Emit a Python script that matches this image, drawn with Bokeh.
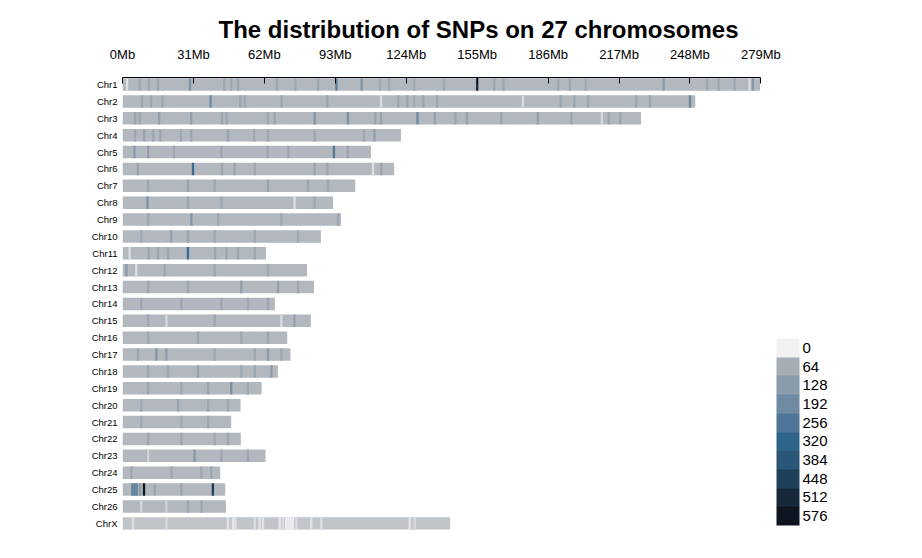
import numpy as np
from bokeh.plotting import figure
from bokeh.models import (ColumnDataSource, LinearColorMapper, ColorBar, FixedTicker,
                          LinearAxis, Range1d, PrintfTickFormatter)
from bokeh.embed import file_html
from bokeh.resources import INLINE

# ---------------- data ----------------
chrom_names = ["Chr1", "Chr2", "Chr3", "Chr4", "Chr5", "Chr6", "Chr7", "Chr8", "Chr9",
               "Chr10", "Chr11", "Chr12", "Chr13", "Chr14", "Chr15", "Chr16", "Chr17",
               "Chr18", "Chr19", "Chr20", "Chr21", "Chr22", "Chr23", "Chr24", "Chr25",
               "Chr26", "ChrX"]
chrom_length_mb = [278.6, 250.3, 226.6, 121.7, 108.6, 118.7, 101.7, 92.0, 95.5,
                   86.7, 62.7, 80.6, 83.7, 66.6, 82.3, 72.0, 73.4,
                   67.9, 60.8, 51.6, 47.5, 51.7, 62.5, 42.7, 44.9,
                   45.2, 143.2]
# typical SNP count per 1Mb window on each chromosome
base_density = [54, 54, 54, 54, 54, 54, 54, 54, 54,
                54, 54, 54, 54, 54, 54, 54, 54,
                54, 54, 54, 54, 54, 54, 54, 54,
                54, 42]

# windows that differ from the typical count: (start Mb, SNP count)
bins_chr1 = [(1.5, 18), (7, 85), (11, 80), (15, 90), (29, 160), (44, 85), (47, 80), (50, 90),
             (67, 85), (75, 80), (85, 90), (93, 230), (104, 150), (112, 80), (116, 85),
             (127, 80), (140, 80), (154.5, 500), (162, 90), (166, 85), (190, 80), (195, 90),
             (202, 80), (236, 130), (255, 80), (260, 90), (267, 85), (273.5, 20), (275, 140)]
bins_chr2 = [(8, 85), (12, 80), (17, 90), (38, 190), (51, 90), (53, 85), (69, 85), (89, 90),
             (112.5, 20), (120, 85), (124, 90), (127, 80), (131, 85), (137, 90), (174.5, 22),
             (191, 85), (197, 90), (203, 85), (224, 90), (230, 85), (247.5, 200)]
bins_chr3 = [(5, 100), (7, 90), (15.5, 110), (29.5, 110), (43, 90), (45, 85), (63, 85), (66, 90),
             (83.5, 150), (98, 170), (110, 90), (112.5, 100), (128.4, 190), (136, 110),
             (145, 90), (150, 100), (165, 90), (181, 110), (195.7, 90), (209, 22), (212, 85),
             (217, 90)]
bins_chr4 = [(5, 85), (9, 100), (13, 85), (16, 90), (25, 80), (29.5, 85), (45.6, 100), (57, 85),
             (63, 85), (83.5, 90), (105, 85), (109.6, 110)]
bins_chr5 = [(4.7, 130), (10.7, 110), (22, 85), (42.7, 90), (63, 85), (72, 85), (91.9, 250),
             (98, 90)]
bins_chr6 = [(6.2, 100), (30.3, 300), (43, 85), (48.5, 90), (57.3, 85), (83.5, 90), (89, 85),
             (109, 18), (112.6, 90)]
bins_chr7 = [(10.7, 85), (28.1, 100), (39.8, 85), (63.1, 100), (80.6, 85), (89.3, 85)]
bins_chr8 = [(10.4, 170), (28.1, 90), (42.7, 85), (74.7, 18), (83.5, 85)]
bins_chr9 = [(10.7, 85), (29.6, 150), (41.3, 85), (68.9, 80), (93.7, 90)]
bins_chr10 = [(7.7, 85), (20.8, 110), (28.1, 90), (39.8, 85), (57.3, 85), (76.2, 80)]
bins_chr11 = [(2.6, 18), (11, 90), (15, 85), (19.4, 90), (28.1, 300), (40, 90), (45, 95),
              (50, 90), (57.3, 85)]
bins_chr12 = [(1.2, 130), (5.5, 18), (17.9, 85), (39.8, 85), (63.1, 80)]
bins_chr13 = [(10.7, 85), (28.1, 85), (51.4, 110), (67.5, 110), (76.2, 85)]
bins_chr14 = [(7.7, 85), (25.2, 85), (42.7, 85), (54.3, 80), (63.1, 85)]
bins_chr15 = [(10.7, 85), (18.7, 22), (39.8, 85), (68.9, 22), (74.7, 110)]
bins_chr16 = [(10.7, 80), (32.5, 85), (51.4, 80), (63.1, 85)]
bins_chr17 = [(6.3, 90), (14.3, 150), (18.7, 120), (39.8, 80), (57.3, 85), (63.1, 120),
              (68.9, 85)]
bins_chr18 = [(10.7, 85), (19.4, 85), (32.5, 100), (51.4, 85), (57.3, 90), (64.6, 120)]
bins_chr19 = [(10.7, 85), (25.2, 85), (36.9, 90), (47, 170), (54.3, 85)]
bins_chr20 = [(7.7, 85), (23.8, 100), (36.9, 85), (45.6, 85)]
bins_chr21 = [(7.7, 85), (25.2, 80), (36.9, 85)]
bins_chr22 = [(10.7, 85), (25.2, 85), (39.8, 80), (45.6, 85)]
bins_chr23 = [(10.7, 28), (31, 140), (42.7, 85), (54.3, 85)]
bins_chr24 = [(3.4, 90), (20.9, 85), (34, 85), (38.3, 90)]
bins_chr25 = [(3.8, 220), (4.8, 230), (5.8, 200), (7.2, 120), (8.9, 576), (13.6, 90),
              (25.2, 85), (39, 450)]
bins_chr26 = [(7.7, 25), (18.7, 28), (28.1, 85), (34, 85)]
bins_chrX = [(4.1, 18), (18.7, 22), (45.6, 15), (47.8, 12), (48.8, 14), (57.3, 18), (59.4, 12),
             (60.9, 14), (68.2, 12), (69.6, 20), (71, 6), (72, 4), (73, 4), (74, 6),
             (75.5, 20), (82, 14), (86.4, 18), (125, 12), (127.2, 22)]

axis_ticks_mb = [0, 31, 62, 93, 124, 155, 186, 217, 248, 279]
legend_breaks = [0, 64, 128, 192, 256, 320, 384, 448, 512, 576]
legend_colors = ["#f2f2f2", "#a7adb4", "#8a9bab", "#6f8ba3", "#4f7698",
                 "#30658a", "#2a5778", "#1f405b", "#16283a", "#0e1521"]

title_text = "The distribution of SNPs on 27 chromosomes"
FONT = "Liberation Sans"

# ---------------- colour scale (continuous ramp through the legend colours) ----------------
def hex_to_rgb(h):
    return [int(h[i:i + 2], 16) for i in (1, 3, 5)]

anchor_rgb = np.array([hex_to_rgb(c) for c in legend_colors], dtype=float)
ramp_x = np.arange(0, legend_breaks[-1] + 1)
ramp = np.stack([np.interp(ramp_x, legend_breaks, anchor_rgb[:, k]) for k in range(3)], axis=1)
palette = ["#%02x%02x%02x" % tuple(int(round(v)) for v in row) for row in ramp]
mapper = LinearColorMapper(palette=palette, low=legend_breaks[0], high=legend_breaks[-1])

# ---------------- sources ----------------
bar_h = 0.74
rows = list(range(1, len(chrom_names) + 1))
base_src = ColumnDataSource(dict(
    left=[0.0] * len(rows),
    right=chrom_length_mb,
    top=[r - bar_h / 2 for r in rows],
    bottom=[r + bar_h / 2 for r in rows],
    count=base_density,
))

all_bins = [bins_chr1, bins_chr2, bins_chr3, bins_chr4, bins_chr5, bins_chr6, bins_chr7,
            bins_chr8, bins_chr9, bins_chr10, bins_chr11, bins_chr12, bins_chr13, bins_chr14,
            bins_chr15, bins_chr16, bins_chr17, bins_chr18, bins_chr19, bins_chr20, bins_chr21,
            bins_chr22, bins_chr23, bins_chr24, bins_chr25, bins_chr26, bins_chrX]
sl, sr, st, sb, sc = [], [], [], [], []
for r, bins, ln in zip(rows, all_bins, chrom_length_mb):
    for pos, cnt in bins:
        sl.append(pos)
        sr.append(min(pos + 1.0, ln))
        st.append(r - bar_h / 2)
        sb.append(r + bar_h / 2)
        sc.append(cnt)
stripe_src = ColumnDataSource(dict(left=sl, right=sr, top=st, bottom=sb, count=sc))

# ---------------- figure ----------------
p = figure(width=906, height=542,
           x_range=Range1d(0, 340), y_range=Range1d(27.6, 0.585),
           x_axis_location=None, y_axis_location=None,
           output_backend="svg", toolbar_location=None,
           min_border_left=122, min_border_right=6, min_border_top=77, min_border_bottom=9)
p.outline_line_color = None
for g in p.grid:
    g.visible = False
p.background_fill_color = "white"
p.border_fill_color = "white"

p.quad(left="left", right="right", top="top", bottom="bottom", source=base_src,
       fill_color={"field": "count", "transform": mapper}, line_color=None)
p.quad(left="left", right="right", top="top", bottom="bottom", source=stripe_src,
       fill_color={"field": "count", "transform": mapper}, line_color=None)

xaxis = LinearAxis(ticker=FixedTicker(ticks=axis_ticks_mb),
                   formatter=PrintfTickFormatter(format="%dMb"),
                   bounds=(axis_ticks_mb[0], axis_ticks_mb[-1]),
                   major_tick_in=6, major_tick_out=0,
                   minor_tick_line_color=None,
                   major_label_standoff=16,
                   major_label_text_font=FONT, major_label_text_font_size="13px",
                   major_label_text_color="black",
                   axis_line_color="black", major_tick_line_color="black")
p.add_layout(xaxis, "above")

yaxis = LinearAxis(ticker=FixedTicker(ticks=rows),
                   major_label_overrides={r: n for r, n in zip(rows, chrom_names)},
                   axis_line_color=None, major_tick_line_color=None, minor_tick_line_color=None,
                   major_tick_in=0, major_tick_out=0,
                   major_label_standoff=5,
                   major_label_text_font=FONT, major_label_text_font_size="9.5px",
                   major_label_text_color="black")
p.add_layout(yaxis, "left")

p.title.text = title_text
p.title.text_font = FONT
p.title.text_font_size = "24px"
p.title.text_font_style = "bold"
p.title.text_color = "black"
p.title.align = "left"
p.title.offset = 96
p.title.standoff = 2

# legend as a colour bar (0 on top, 576 at the bottom): the bar runs bottom-up,
# so its palette is reversed and its tick labels are relabelled.
step = legend_breaks[1] - legend_breaks[0]
top_break = legend_breaks[-1]
legend_mapper = LinearColorMapper(palette=legend_colors[::-1],
                                  low=-step / 2, high=top_break + step / 2)
cb = ColorBar(color_mapper=legend_mapper,
              ticker=FixedTicker(ticks=legend_breaks),
              major_label_overrides={top_break - b: str(b) for b in legend_breaks},
              orientation="vertical", width=23, height=187, padding=0,
              location=(654, 8),
              major_tick_line_color=None, minor_tick_line_color=None,
              bar_line_color=None, border_line_color=None, background_fill_alpha=0,
              label_standoff=3,
              major_label_text_font=FONT, major_label_text_font_size="15px",
              major_label_text_color="black")
p.add_layout(cb)

open("out.html", "w").write(file_html(p, INLINE))
